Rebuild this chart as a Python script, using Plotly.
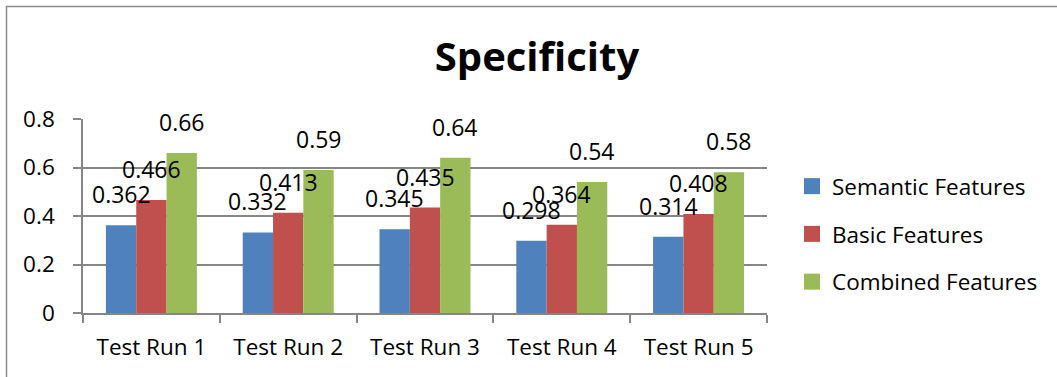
import plotly.graph_objects as go

categories = ["Test Run 1", "Test Run 2", "Test Run 3", "Test Run 4", "Test Run 5"]
semantic = [0.362, 0.332, 0.345, 0.298, 0.314]
basic = [0.466, 0.413, 0.435, 0.364, 0.408]
combined = [0.66, 0.59, 0.64, 0.54, 0.58]
series_names = ["Semantic Features", "Basic Features", "Combined Features"]
colors = ["#4F81BD", "#C0504D", "#9BBB59"]
y_ticks = [0, 0.2, 0.4, 0.6, 0.8]

FONT = "Open Sans"
GRAY = "#868686"
BARGAP = 0.335

W, H = 1057, 377
L, R, T, B = 83, 290, 119, 64
PW, PH = W - L - R, H - T - B

fig = go.Figure()
series = [semantic, basic, combined]
for name, vals, col in zip(series_names, series, colors):
    fig.add_trace(go.Bar(x=categories, y=vals, name=name, marker_color=col,
                         marker_line_width=0, showlegend=False))
for k, (name, col) in enumerate(zip(series_names, colors)):
    fig.add_trace(go.Scatter(x=[None], y=[None], mode="markers", name=name,
                             legendgroup=f"g{k}",
                             marker=dict(symbol="square", size=16, color=col)))

barw = (1 - BARGAP) / len(series)
annotations = []
for j, vals in enumerate(series):
    for i, v in enumerate(vals):
        annotations.append(dict(x=i + (j - 1) * barw, y=v, xref="x", yref="y",
                                text=f"{v:g}", showarrow=False, yanchor="bottom",
                                yshift=13, font=dict(family=FONT, size=23, color="black")))

shapes = [dict(type="rect", xref="paper", yref="paper", layer="above",
               x0=(6.5 - L) / PW, x1=(W + 5 - L) / PW,
               y0=-(H + 5 - (T + PH)) / PH, y1=1 + (T - 6.5) / PH,
               line=dict(color="#8c8c8c", width=1.5))]

fig.update_layout(
    width=W, height=H,
    margin=dict(l=L, r=R, t=T, b=B),
    paper_bgcolor="white", plot_bgcolor="white",
    barmode="group", bargap=BARGAP, bargroupgap=0,
    title=dict(text="<b>Specificity</b>", x=537 / W, xref="container", xanchor="center",
               y=1 - 57 / H, yref="container", yanchor="middle",
               font=dict(family=FONT, size=40, color="black")),
    font=dict(family=FONT, size=23, color="black"),
    legend=dict(x=(792 - L) / PW, xanchor="left", y=1 - (165 - T) / PH, yanchor="top",
                font=dict(family=FONT, size=22.5, color="black"),
                tracegroupgap=15.5, bgcolor="rgba(0,0,0,0)", itemwidth=30),
    annotations=annotations,
    shapes=shapes,
    xaxis=dict(type="category", showline=True, linecolor=GRAY, linewidth=1.5,
               ticks="outside", tickson="boundaries", ticklen=8, tickcolor=GRAY,
               tickwidth=1.5, showgrid=False, ticklabelstandoff=13,
               tickfont=dict(family=FONT, size=22.5, color="black")),
    yaxis=dict(range=[0, 0.8], tickvals=y_ticks, showline=True, linecolor=GRAY,
               linewidth=1.5, ticks="outside", ticklen=8, tickcolor=GRAY, tickwidth=1.5,
               showgrid=True, gridcolor=GRAY, gridwidth=1.5, zeroline=False,
               ticklabelstandoff=14,
               tickfont=dict(family=FONT, size=22.5, color="black")),
)

fig.write_html("out.html", config={"displayModeBar": False},
               post_script="document.body.style.margin='0';document.body.style.overflow='hidden';")
